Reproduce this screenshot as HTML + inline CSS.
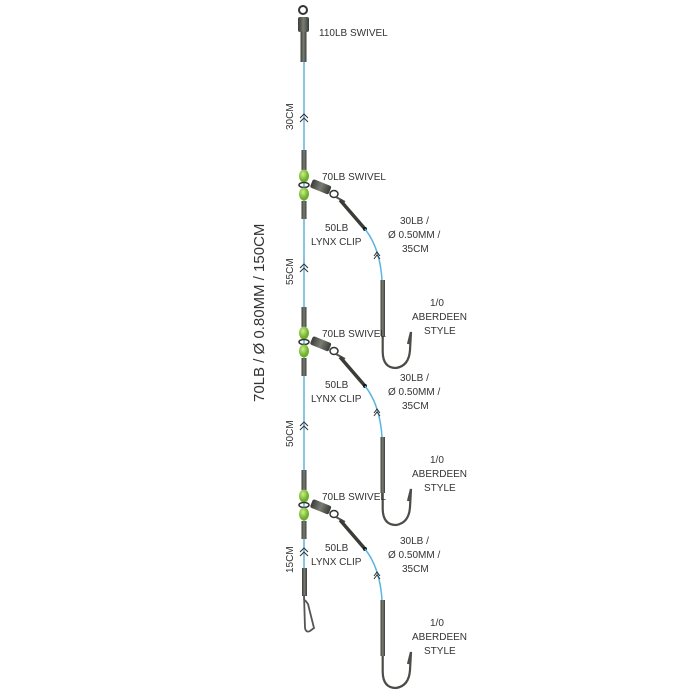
<!DOCTYPE html>
<html><head><style>body{margin:0;background:#fff}svg{display:block}text{font-family:"Liberation Sans",sans-serif;fill:#333;font-size:10px}</style></head><body>
<svg width="700" height="700" viewBox="0 0 700 700">
<defs>
<linearGradient id="m" x1="0" x2="1"><stop offset="0" stop-color="#3a3d36"/><stop offset=".5" stop-color="#7a7d74"/><stop offset="1" stop-color="#3a3d36"/></linearGradient>
<radialGradient id="g" cx=".4" cy=".35"><stop offset="0" stop-color="#c8f08a"/><stop offset="1" stop-color="#6fae2a"/></radialGradient>
<g id="unit">
<rect x="301.5" y="150" width="5" height="20" fill="url(#m)"/>
<ellipse cx="304" cy="176" rx="5" ry="6.5" fill="url(#g)"/>
<ellipse cx="304" cy="185" rx="5" ry="2.5" fill="none" stroke="#333" stroke-width="1.5"/>
<ellipse cx="304" cy="194" rx="5" ry="6.5" fill="url(#g)"/>
<rect x="301.5" y="201" width="5" height="18" fill="url(#m)"/>
<rect x="311" y="182" width="20" height="9" rx="2" fill="url(#m)" transform="rotate(22 320 186)"/>
<ellipse cx="334" cy="194" rx="4" ry="3.5" fill="none" stroke="#333" stroke-width="1.5"/>
<path d="M336 197 L345 202" stroke="#555" stroke-width="2" fill="none"/>
<line x1="340" y1="200" x2="365" y2="229" stroke="#3a3d36" stroke-width="3.5"/>
<circle cx="365" cy="229" r="2" fill="#111"/>
<path d="M365 229 Q380 248 382 280" stroke="#5bb4e0" stroke-width="1.5" fill="none"/>
<path d="M374 256 l3 -4 l3 4 M374 259 l3 -4 l3 4" stroke="#333" fill="none" stroke-width="1"/>
<rect x="380.5" y="280" width="4.5" height="56" fill="url(#m)"/>
<path d="M382.7 336 L382.7 352 Q383 368 396 368 Q409 366 410 350 L411 332 L408 344" stroke="#4a4d48" stroke-width="2.2" fill="none"/>
<text x="322" y="180">70LB SWIVEL</text>
<text x="325" y="231">50LB</text>
<text x="311" y="245">LYNX CLIP</text>
<text x="400" y="224">30LB /</text>
<text x="388" y="238">Ø 0.50MM /</text>
<text x="402" y="252">35CM</text>
<text x="430" y="306">1/0</text>
<text x="412" y="320">ABERDEEN</text>
<text x="424" y="334">STYLE</text>
</g>
</defs>
<line x1="304" y1="62" x2="304" y2="600" stroke="#5bb4e0" stroke-width="1.5"/>
<circle cx="303" cy="10" r="4" fill="none" stroke="#333" stroke-width="2"/>
<rect x="298" y="17" width="11" height="15" rx="2" fill="url(#m)"/>
<rect x="300.5" y="32" width="6" height="30" fill="url(#m)"/>
<path d="M300 118 l4 -4 l4 4 M300 122 l4 -4 l4 4" stroke="#333" fill="none" stroke-width="1"/>
<path d="M300 268 l4 -4 l4 4 M300 272 l4 -4 l4 4" stroke="#333" fill="none" stroke-width="1"/>
<path d="M300 426 l4 -4 l4 4 M300 430 l4 -4 l4 4" stroke="#333" fill="none" stroke-width="1"/>
<path d="M300 552 l4 -4 l4 4 M300 556 l4 -4 l4 4" stroke="#333" fill="none" stroke-width="1"/>
<text x="319" y="36">110LB SWIVEL</text>
<use href="#unit"/>
<use href="#unit" y="157"/>
<use href="#unit" y="320"/>
<rect x="302" y="568" width="5" height="28" fill="url(#m)"/>
<path d="M304 595 L305 628 Q306 633 310 631 L314 628 L308 604 L305 600" stroke="#555" stroke-width="1.8" fill="none"/>
<text transform="translate(293 130) rotate(-90)">30CM</text>
<text transform="translate(293 285) rotate(-90)">55CM</text>
<text transform="translate(293 447) rotate(-90)">50CM</text>
<text transform="translate(293 573) rotate(-90)">15CM</text>
<text transform="translate(264 402) rotate(-90)" style="font-size:15px">70LB / Ø 0.80MM / 150CM</text>
</svg>
</body></html>
